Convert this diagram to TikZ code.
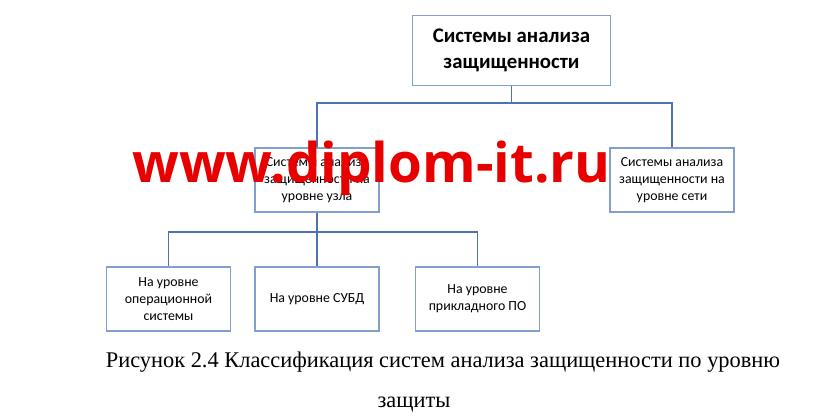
\documentclass[tikz,border=0pt]{standalone}
\usepackage{fontspec}
\setmainfont{Liberation Serif}
\newfontfamily\boxfont{Carlito}
\newfontfamily\markfont{Open Sans}
\definecolor{boxblue}{RGB}{130,160,205}
\definecolor{linkblue}{RGB}{75,115,175}
\definecolor{markred}{RGB}{232,0,0}
\tikzset{
  level/.style={draw=boxblue,line width=0.8pt,align=center,inner sep=2pt,
    minimum width=93pt,minimum height=48pt,font=\boxfont\fontsize{10.4}{12.6}\selectfont},
  link/.style={draw=linkblue,line width=0.8pt}
}
\begin{document}
\begin{tikzpicture}[x=0.75pt,y=-0.75pt]
\useasboundingbox (0,0) rectangle (824,420);
\node[level,minimum width=149pt,minimum height=52pt,
  font=\boxfont\bfseries\fontsize{15.6}{19}\selectfont] (top) at (511.5,50.5)
  {Системы анализа\\защищенности};
\node[level] (host) at (317,180) {Системы анализа\\защищенности на\\уровне узла};
\node[level] (net) at (672,180) {Системы анализа\\защищенности на\\уровне сети};
\node[level] (os) at (168.5,299) {На уровне\\операционной\\системы};
\node[level] (dbms) at (317,299) {На уровне СУБД};
\node[level] (app) at (477.5,299) {На уровне\\прикладного ПО};
\coordinate (bus1) at (511.5,103);
\coordinate (bus2) at (317,232);
\draw[link] (top.south) -- (bus1);
\draw[link] (bus1) -| (host.north);
\draw[link] (bus1) -| (net.north);
\draw[link] (host.south) -- (bus2);
\draw[link] (bus2) -| (os.north);
\draw[link] (bus2) -- (dbms.north);
\draw[link] (bus2) -| (app.north);
\node[anchor=base,inner sep=0pt,font=\fontsize{16.8}{20}\selectfont] (cap1) at (443,367)
  {Рисунок 2.4 Классификация систем анализа защищенности по уровню};
\node[anchor=base,inner sep=0pt,font=\fontsize{16.8}{20}\selectfont] (cap2) at (414,407)
  {защиты};
\node[anchor=base west,inner sep=0pt,text=markred,
  font=\markfont\bfseries\fontsize{41}{48}\selectfont] (mark) at (132,183) {www.diplom-it.ru};
\end{tikzpicture}
\end{document}
